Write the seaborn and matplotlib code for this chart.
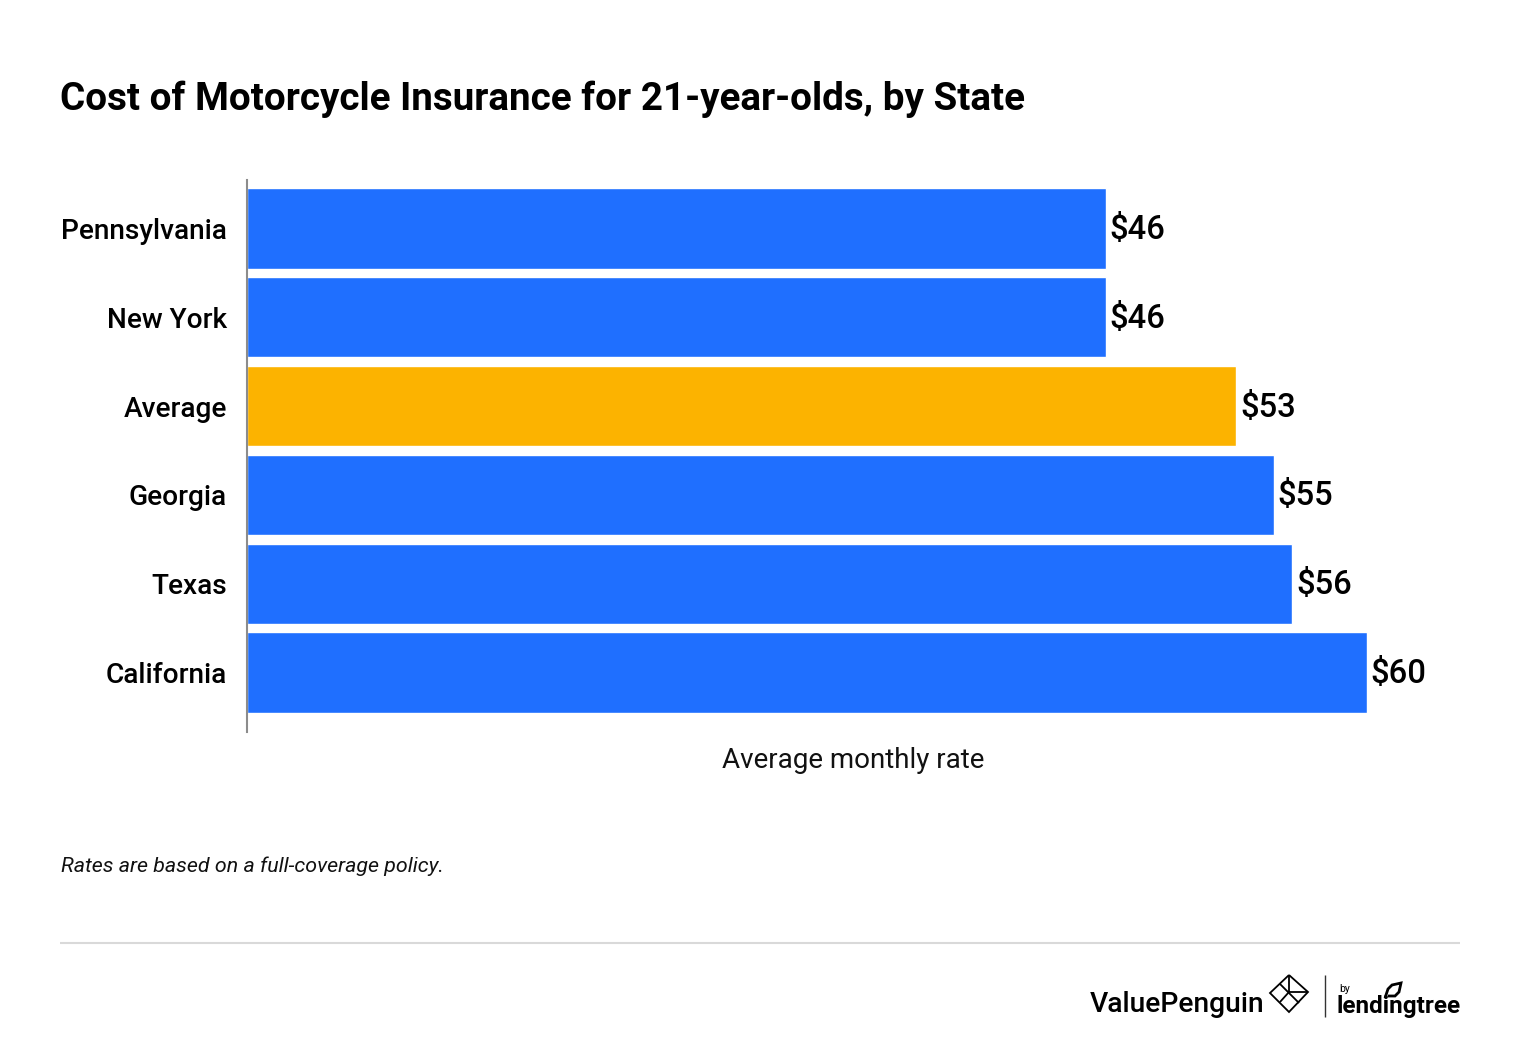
import matplotlib
matplotlib.use("Agg")
import matplotlib.pyplot as plt
import pandas as pd
import seaborn as sns

states = ["Pennsylvania", "New York", "Average", "Georgia", "Texas", "California"]
rates = [46, 46, 53, 55, 56, 60]
bar_colors = ["#1f6fff", "#1f6fff", "#fcb300", "#1f6fff", "#1f6fff", "#1f6fff"]

sns.set_theme(style="white")
plt.rcParams['font.family'] = ['Roboto', 'DejaVu Sans']

W, H = 1520, 1052
fig = plt.figure(figsize=(W / 100, H / 100), dpi=100, facecolor="white")

# axes from the left spine to the right end of the California bar
left, right, top, bottom = 247, 1367, 180, 732
ax = fig.add_axes([left / W, 1 - bottom / H, (right - left) / W, (bottom - top) / H])

df = pd.DataFrame({"state": states, "rate": rates})
sns.barplot(data=df, y="state", x="rate", hue="state", palette=bar_colors,
            legend=False, width=0.905, saturation=1, ax=ax)

ax.set_xlim(0, 60)
ax.set_ylim(5.67, -0.546)
ax.set_xticks([])
ax.set_ylabel("")
ax.set_xlabel("")
ax.tick_params(axis="y", length=0, pad=14.5, labelsize=20.2, labelcolor="black")
for lab in ax.get_yticklabels():
    lab.set_fontweight(500)

for s in ["top", "right", "bottom"]:
    ax.spines[s].set_visible(False)
ax.spines["left"].set_color("#8c8c8c")
ax.spines["left"].set_linewidth(1.5)

for container in ax.containers:
    for ann in ax.bar_label(container, fmt="$%d", padding=3, fontsize=23.6, color="black", fontweight=500):
        ann.xyann = (2.7, -1.1)


def px_line(xs, ys, color="black", lw=1.2):
    # footer decoration, given in pixel positions
    fig.add_artist(plt.Line2D([x / W for x in xs], [1 - y / H for y in ys], color=color, lw=lw,
                              solid_joinstyle="miter", solid_capstyle="butt"))


fig.text(853 / W, 1 - 761 / H, "Average monthly rate", ha="center", va="center", fontsize=20, color="#111111")
fig.text(60 / W, 1 - 99 / H, "Cost of Motorcycle Insurance for 21-year-olds, by State", ha="left", va="center",
         fontsize=27.8, fontweight="bold", color="black")
fig.text(61 / W, 1 - 866 / H, "Rates are based on a full-coverage policy.", ha="left", va="center",
         fontsize=15.4, style="italic", color="#111111")

# footer rule and logos
px_line([60, 1460], [943, 943], color="#d9d9d9", lw=1.5)
px_line([1324.5, 1324.5], [975, 1017], color="#333333", lw=1)
fig.text(1090 / W, 1 - 1005 / H, "ValuePenguin", ha="left", va="center", fontsize=20.3, fontweight=500, color="black")
fig.text(1339 / W, 1 - 989 / H, "by", ha="left", va="center", fontsize=7.5, color="black")
fig.text(1337 / W, 1 - 1006 / H, "lendingtree", ha="left", va="center", fontsize=17.5, fontweight="bold", color="black")

# penguin mark
px_line([1289, 1308, 1289, 1270, 1289], [975, 992, 1012, 993, 975], lw=1.3)
px_line([1280, 1299], [984, 1003], lw=1.3)
px_line([1289, 1289, 1308], [975, 992, 992], lw=1.3)
px_line([1289, 1280], [992, 1002], lw=1.3)

# leaf above lendingtree
px_line([1385, 1388, 1392, 1401, 1399, 1395, 1388], [998, 989, 985, 983, 992, 996, 996], lw=2)

fig.savefig("out.png", dpi=100, facecolor="white")
